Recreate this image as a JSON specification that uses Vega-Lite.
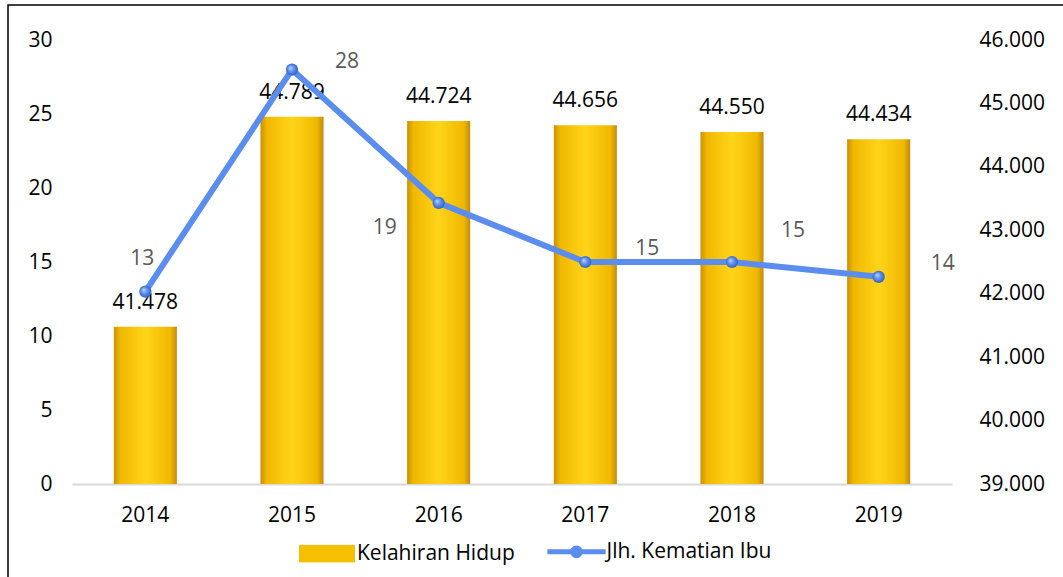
{
  "$schema": "https://vega.github.io/schema/vega-lite/v6.json",
  "width": 1060,
  "height": 577,
  "autosize": {"type": "none"},
  "padding": {"left": 8, "top": 5, "right": -5, "bottom": -5},
  "background": "white",
  "config": {
    "locale": {"number": {"decimal": ",", "thousands": ".", "grouping": [3], "currency": ["", ""]}},
    "view": {"stroke": "#000000", "strokeWidth": 1.5},
    "font": "Open Sans",
    "axis": {"labelFont": "Open Sans", "labelFontSize": 21, "labelColor": "#000000", "ticks": false, "grid": false}
  },
  "data": {"values": [
    {"tahun": "2014", "lahir": 41478, "mati": 13},
    {"tahun": "2015", "lahir": 44789, "mati": 28},
    {"tahun": "2016", "lahir": 44724, "mati": 19},
    {"tahun": "2017", "lahir": 44656, "mati": 15},
    {"tahun": "2018", "lahir": 44550, "mati": 15},
    {"tahun": "2019", "lahir": 44434, "mati": 14}
  ]},
  "encoding": {
    "x": {
      "field": "tahun", "type": "nominal",
      "scale": {"range": [64, 944], "paddingInner": 0.57, "paddingOuter": 0.285},
      "axis": {"orient": "bottom", "offset": -98, "domainColor": "#D9D9D9", "domainWidth": 2, "labelPadding": 20, "labelAngle": 0, "title": null}
    }
  },
  "layer": [
    {
      "encoding": {
        "y": {
          "field": "lahir", "type": "quantitative",
          "scale": {"domain": [39000, 46000], "range": [479, 35], "nice": false, "zero": false},
          "axis": {"orient": "right", "offset": -116, "values": [39000, 40000, 41000, 42000, 43000, 44000, 45000, 46000], "format": ",d", "domain": false, "labelPadding": 27, "title": null}
        }
      },
      "layer": [
        {
          "mark": {"type": "bar", "fill": {"gradient": "linear", "x1": 0, "y1": 0, "x2": 1, "y2": 0, "stops": [
            {"offset": 0, "color": "#C99000"},
            {"offset": 0.1, "color": "#F0B800"},
            {"offset": 0.5, "color": "#FFD41A"},
            {"offset": 0.9, "color": "#F0B800"},
            {"offset": 1, "color": "#BF8A10"}
          ]}},
          "encoding": {"y2": {"datum": 39000}}
        },
        {
          "mark": {"type": "text", "dy": -24, "fontSize": 21, "font": "Open Sans", "color": "#000000", "baseline": "middle"},
          "encoding": {"text": {"field": "lahir", "type": "quantitative", "format": ",d"}}
        }
      ]
    },
    {
      "encoding": {
        "y": {
          "field": "mati", "type": "quantitative",
          "scale": {"domain": [0, 30], "range": [479, 35], "nice": false},
          "axis": {"orient": "left", "offset": -64, "values": [0, 5, 10, 15, 20, 25, 30], "domain": false, "labelPadding": 20, "title": null}
        }
      },
      "layer": [
        {
          "mark": {"type": "line", "strokeWidth": 6},
          "encoding": {
            "color": {
              "datum": "Jlh. Kematian Ibu", "type": "nominal",
              "scale": {"domain": ["Kelahiran Hidup", "Jlh. Kematian Ibu"], "range": ["#F2BC00", "#5B8DEF"]},
              "legend": {
                "orient": "none", "legendX": 308.5, "legendY": 536, "direction": "horizontal",
                "title": null, "symbolSize": 3025, "labelFont": "Open Sans", "labelFontSize": 21, "labelColor": "#000000",
                "labelOffset": 19.5, "labelLimit": 0, "columnPadding": 21.5, "padding": 0,
                "encode": {"symbols": {"update": {
                  "shape": {"signal": "datum.value === 'Kelahiran Hidup' ? 'M-1,-0.3H1V0.3H-1Z' : 'M-1.06,0H1.06M0.14,0A0.14,0.14 0 1,1 -0.14,0A0.14,0.14 0 1,1 0.14,0'"},
                  "fill": {"signal": "datum.value === 'Kelahiran Hidup' ? '#F5C000' : '#4F80E0'"},
                  "stroke": {"signal": "datum.value === 'Kelahiran Hidup' ? '#D9A300' : '#5B8DEF'"},
                  "strokeWidth": {"signal": "datum.value === 'Kelahiran Hidup' ? 1 : 5"},
                  "opacity": {"value": 1}
                }}}
              }
            }
          }
        },
        {
          "mark": {"type": "point", "filled": true, "size": 150, "opacity": 1, "fill": {"gradient": "radial", "x1": 0.35, "y1": 0.35, "r1": 0, "x2": 0.5, "y2": 0.5, "r2": 0.55, "stops": [
            {"offset": 0, "color": "#BBD6FF"},
            {"offset": 0.5, "color": "#5B8DEF"},
            {"offset": 1, "color": "#2E5CB8"}
          ]}}
        },
        {
          "transform": [{"filter": "datum.tahun === '2014'"}],
          "mark": {"type": "text", "dx": -3, "dy": -33, "fontSize": 21, "font": "Open Sans", "color": "#595959", "baseline": "middle"},
          "encoding": {"text": {"field": "mati", "type": "quantitative"}}
        },
        {
          "transform": [{"filter": "datum.tahun === '2015'"}],
          "mark": {"type": "text", "dx": 55, "dy": -8, "fontSize": 21, "font": "Open Sans", "color": "#595959", "baseline": "middle"},
          "encoding": {"text": {"field": "mati", "type": "quantitative"}}
        },
        {
          "transform": [{"filter": "datum.tahun === '2016'"}],
          "mark": {"type": "text", "dx": -54, "dy": 25, "fontSize": 21, "font": "Open Sans", "color": "#595959", "baseline": "middle"},
          "encoding": {"text": {"field": "mati", "type": "quantitative"}}
        },
        {
          "transform": [{"filter": "datum.tahun === '2017'"}],
          "mark": {"type": "text", "dx": 62, "dy": -13, "fontSize": 21, "font": "Open Sans", "color": "#595959", "baseline": "middle"},
          "encoding": {"text": {"field": "mati", "type": "quantitative"}}
        },
        {
          "transform": [{"filter": "datum.tahun === '2018'"}],
          "mark": {"type": "text", "dx": 61, "dy": -31, "fontSize": 21, "font": "Open Sans", "color": "#595959", "baseline": "middle"},
          "encoding": {"text": {"field": "mati", "type": "quantitative"}}
        },
        {
          "transform": [{"filter": "datum.tahun === '2019'"}],
          "mark": {"type": "text", "dx": 64, "dy": -13, "fontSize": 21, "font": "Open Sans", "color": "#595959", "baseline": "middle"},
          "encoding": {"text": {"field": "mati", "type": "quantitative"}}
        }
      ]
    }
  ],
  "resolve": {"scale": {"y": "independent"}}
}
